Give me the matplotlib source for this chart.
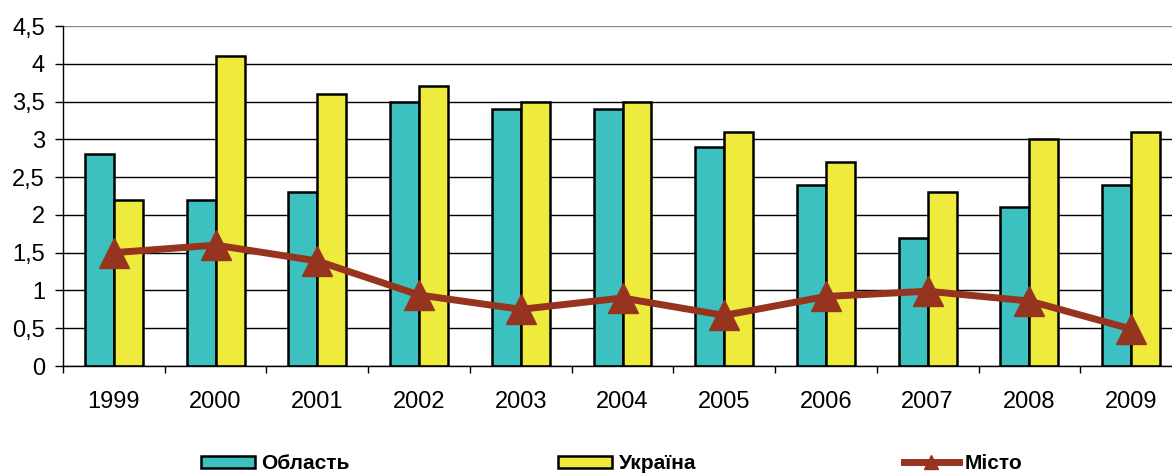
import matplotlib.pyplot as plt
import numpy as np

# дані з діаграми
years = ['1999', '2000', '2001', '2002', '2003', '2004', '2005', '2006', '2007', '2008', '2009']
oblast = [2.8, 2.2, 2.3, 3.5, 3.4, 3.4, 2.9, 2.4, 1.7, 2.1, 2.4]
ukraina = [2.2, 4.1, 3.6, 3.7, 3.5, 3.5, 3.1, 2.7, 2.3, 3.0, 3.1]
misto = [1.5, 1.6, 1.39, 0.94, 0.75, 0.9, 0.67, 0.92, 0.99, 0.86, 0.49]

plt.rcParams['font.family'] = ['Liberation Sans', 'DejaVu Sans']

fig = plt.figure(figsize=(11.72, 4.73), dpi=100)
# права межа виходить за кадр, як на оригіналі
ax = fig.add_axes([63 / 1172, 107 / 473, 1119 / 1172, 340 / 473])

x = np.arange(len(years))
w = 0.285
b1 = ax.bar(x - w / 2, oblast, w, color='#3cc0c0', edgecolor='black', linewidth=1.8,
            label='Область', zorder=2)
b2 = ax.bar(x + w / 2, ukraina, w, color='#eeeb3c', edgecolor='black', linewidth=1.8,
            label='Україна', zorder=2)
l1, = ax.plot(x, misto, color='#96341f', linewidth=5, marker='^', markersize=21,
              label='Місто', zorder=3)

ax.set_xlim(-0.5, len(years) - 0.5)
ax.set_ylim(0, 4.5)
yt = np.arange(0, 4.51, 0.5)
ax.set_yticks(yt)
ax.set_yticklabels([('%g' % v).replace('.', ',') for v in yt], fontsize=17)
ax.tick_params(axis='y', length=6, width=1, pad=7, direction='out')

ax.set_xticks(np.arange(-0.5, len(years), 1.0))
ax.set_xticklabels([])
ax.set_xticks(x, minor=True)
ax.set_xticklabels(years, minor=True, fontsize=17)
ax.tick_params(axis='x', which='major', length=5, width=1, direction='out')
ax.tick_params(axis='x', which='minor', length=0, pad=18)

ax.grid(axis='y', color='black', linewidth=1)
ax.set_axisbelow(True)
ax.yaxis.get_gridlines()[-1].set_color('#888888')

for s in ['top', 'right']:
    ax.spines[s].set_visible(False)
ax.spines['left'].set_linewidth(1)
ax.spines['bottom'].set_linewidth(1)

fig.legend([b1, b2, l1], ['Область', 'Україна', 'Місто'],
           loc='center', bbox_to_anchor=(0.522, 0.02), ncol=3, frameon=False,
           prop={'weight': 'bold', 'size': 15}, handlelength=2.6, handleheight=0.5,
           handletextpad=0.3, columnspacing=10, markerscale=0.5)

fig.savefig('out.png', dpi=100)
